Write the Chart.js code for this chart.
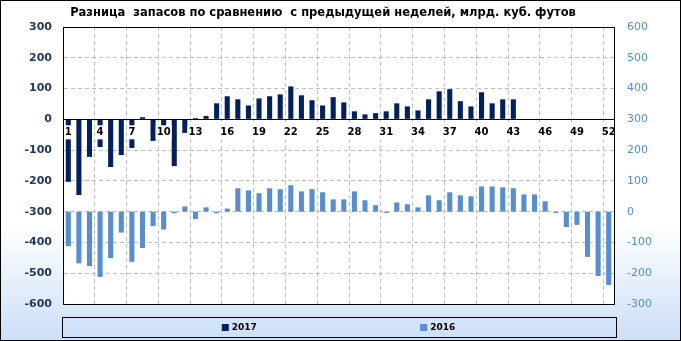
<!DOCTYPE html>
<html>
<head>
<meta charset="utf-8">
<script src="https://cdn.jsdelivr.net/npm/chart.js@4.4.1/dist/chart.umd.min.js"></script>
<style>
    html, body { margin: 0; padding: 0; background: #fff; }
    #wrap { width: 681px; height: 341px; }
</style>
</head>
<body>
<div id="wrap"><canvas id="chart" width="681" height="341"></canvas></div>
<script>
'use strict';

var chartTitle = 'Разница  запасов по сравнению  с предыдущей неделей, млрд. куб. футов';

var weeks = ['1', '2', '3', '4', '5', '6', '7', '8', '9', '10',
    '11', '12', '13', '14', '15', '16', '17', '18', '19', '20',
    '21', '22', '23', '24', '25', '26', '27', '28', '29', '30',
    '31', '32', '33', '34', '35', '36', '37', '38', '39', '40',
    '41', '42', '43', '44', '45', '46', '47', '48', '49', '50',
    '51', '52'];

// 2017, left axis
var diff2017 = [-203, -246, -122, -90, -155, -116, -93, 7, -70, -30,
    -152, -44, 4, 11, 52, 75, 65, 45, 68, 75,
    81, 107, 78, 62, 45, 72, 55, 26, 16, 20,
    26, 52, 42, 29, 65, 91, 98, 59, 42, 88,
    52, 65, 65, null, null, null, null, null, null, null,
    null, null];

// 2016, right axis
var diff2016 = [-112, -168, -177, -212, -151, -68, -163, -118, -47, -58,
    -5, 17, -24, 14, -5, 10, 76, 69, 60, 76,
    73, 86, 66, 73, 63, 40, 40, 66, 37, 21,
    -4, 30, 24, 14, 53, 37, 63, 53, 50, 82,
    82, 79, 76, 56, 56, 34, -4, -50, -43, -147,
    -209, -238];

var leftTicks = [-600, 300];
var rightTicks = [-300, 600];

var FONT = '"DejaVu Sans", Verdana, sans-serif';

function shownTick(i) {
    return i % 3 === 0;
}

var framePlugin = {
    id: 'frame',
    beforeDraw: function (chart) {
        var c = chart.ctx, a = chart.chartArea, w = chart.width, h = chart.height, g;
        c.save();
        g = c.createLinearGradient(0, 0, 0, h);
        g.addColorStop(0, '#ffffff');
        g.addColorStop(0.66, '#ffffff');
        g.addColorStop(1, '#cbdff8');
        c.fillStyle = g;
        c.fillRect(0, 0, w, h);
        c.fillStyle = '#ffffff';
        c.fillRect(a.left, a.top, a.right - a.left, a.bottom - a.top);
        c.restore();
    },
    afterDraw: function (chart) {
        var c = chart.ctx, a = chart.chartArea, w = chart.width, h = chart.height;
        var ds = chart.data.datasets, lx, ly, i, pos;
        c.save();
        c.strokeStyle = '#000';
        c.lineWidth = 1;
        c.strokeRect(a.left + 0.5, a.top + 0.5, a.right - a.left, a.bottom - a.top);
        c.strokeRect(0.5, 0.5, w - 1, h - 1);

        // title
        c.fillStyle = '#000';
        c.font = 'bold 11.5px ' + FONT;
        c.textAlign = 'center';
        c.textBaseline = 'middle';
        c.fillText(chartTitle, 323, 13);

        // legend box
        lx = a.left - 1;
        ly = a.bottom + 13;
        c.strokeRect(lx + 0.5, ly + 0.5, a.right - a.left + 3, 20);
        pos = [0.29, 0.65];
        c.font = 'bold 9px ' + FONT;
        c.textAlign = 'left';
        for (i = 0; i < ds.length; i++) {
            var x = lx + (a.right - a.left) * pos[i];
            c.fillStyle = ds[i].backgroundColor;
            c.fillRect(x, ly + 7, 7, 7);
            c.fillStyle = '#000';
            c.fillText(ds[i].label, x + 10, ly + 11);
        }
        c.restore();
    }
};

new Chart(document.getElementById('chart'), {
    type: 'bar',
    data: {
        labels: weeks,
        datasets: [
            {
                label: '2017',
                data: diff2017,
                backgroundColor: '#002060',
                yAxisID: 'y',
                grouped: false,
                barPercentage: 0.48,
                categoryPercentage: 1
            },
            {
                label: '2016',
                data: diff2016,
                backgroundColor: '#558ed5',
                yAxisID: 'y2',
                grouped: false,
                barPercentage: 0.48,
                categoryPercentage: 1
            }
        ]
    },
    options: {
        responsive: false,
        devicePixelRatio: 1,
        animation: false,
        layout: { padding: { top: 27, bottom: 37, left: 0, right: 0 } },
        plugins: {
            legend: { display: false },
            tooltip: { enabled: false }
        },
        scales: {
            x: {
                position: { y: 0 },
                afterFit: function (s) { s.height = 0; },
                grid: {
                    offset: true,
                    drawTicks: false,
                    color: function (ctx) {
                        return (ctx.index > 0 && shownTick(ctx.index)) ? '#c0c0c0' : 'rgba(0,0,0,0)';
                    }
                },
                border: { display: true, color: '#000', width: 1, dash: [4, 3], z: 1 },
                ticks: {
                    z: 1,
                    autoSkip: false,
                    maxRotation: 0,
                    padding: 7,
                    color: '#000',
                    showLabelBackdrop: true,
                    backdropColor: function (ctx) {
                        return shownTick(ctx.index) ? '#ffffff' : 'rgba(0,0,0,0)';
                    },
                    backdropPadding: 1,
                    font: { family: FONT, size: 10, weight: 'bold' },
                    callback: function (v, i) {
                        return shownTick(i) ? this.getLabelForValue(v) : '';
                    }
                }
            },
            y: {
                position: 'left',
                min: leftTicks[0],
                max: leftTicks[1],
                afterFit: function (s) { s.width = 63; },
                grid: { color: '#c0c0c0', drawTicks: false },
                border: { display: true, color: '#000', dash: [4, 3] },
                ticks: {
                    stepSize: 100,
                    padding: 11,
                    color: '#1f3864',
                    font: { family: FONT, size: 11, weight: 'bold' }
                }
            },
            y2: {
                position: 'right',
                min: rightTicks[0],
                max: rightTicks[1],
                afterFit: function (s) { s.width = 67; },
                grid: { display: false, drawTicks: false },
                border: { display: true, color: '#000' },
                ticks: {
                    stepSize: 100,
                    padding: 13,
                    color: '#558ed5',
                    font: { family: FONT, size: 11 }
                }
            }
        }
    },
    plugins: [framePlugin]
});
</script>
</body>
</html>
